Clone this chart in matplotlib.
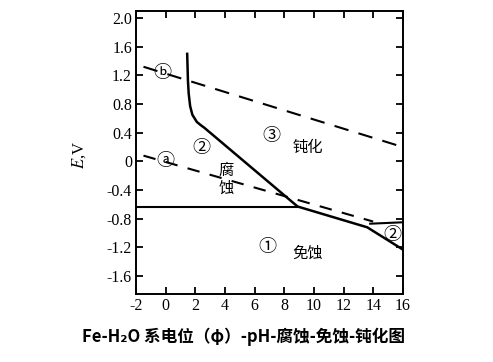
import matplotlib
matplotlib.use("Agg")
import matplotlib.pyplot as plt

# ---- data ----
curve_x = [1.45, 1.5, 1.55, 1.65, 1.8, 2.1, 2.4, 2.6, 8.9, 13.6, 16.0]
curve_y = [1.5, 1.13, 0.95, 0.77, 0.65, 0.55, 0.50, 0.47, -0.63, -0.92, -1.23]
hline_x = [-2.0, 8.9]
hline_y = [-0.63, -0.63]
right_x = [13.8, 16.0]
right_y = [-0.87, -0.85]
line_a_x = [-1.5, 14.0]
line_a_y = [0.08, -0.84]
line_b_x = [-1.5, 16.0]
line_b_y = [1.32, 0.20]

xticks = [-2, 0, 2, 4, 6, 8, 10, 12, 14, 16]
yticks = [2.0, 1.6, 1.2, 0.8, 0.4, 0, -0.4, -0.8, -1.2, -1.6]
ytick_labels = ["2.0", "1.6", "1.2", "0.8", "0.4", "0", "-0.4", "-0.8", "-1.2", "-1.6"]

circ_labels = [
    ("ⓑ", -0.2, 1.23), ("ⓐ", 0.0, 0.0), ("②", 2.4, 0.18),
    ("③", 7.1, 0.36), ("①", 6.85, -1.2), ("②", 15.3, -1.03),
]
text_labels = [
    ("腐", 4.1, -0.13), ("蚀", 4.1, -0.37),
    ("钝化", 9.6, 0.2), ("免蚀", 9.6, -1.28),
]
title = "Fe-H₂O 系电位（φ）-pH-腐蚀-免蚀-钝化图"

plt.rcParams['mathtext.fontset'] = 'stix'
plt.rcParams['axes.unicode_minus'] = False
fig = plt.figure(figsize=(4.93, 3.62), dpi=100)
ax = fig.add_axes([0.276, 0.188, 0.541, 0.782])

ax.plot(curve_x, curve_y, color='black', lw=1.8)
ax.plot(hline_x, hline_y, color='black', lw=1.5)
ax.plot(right_x, right_y, color='black', lw=1.5)
ax.plot(line_a_x, line_a_y, color='black', lw=1.5, dashes=(6, 5))
ax.plot(line_b_x, line_b_y, color='black', lw=1.5, dashes=(7, 5))

cjk = ['Noto Sans CJK SC', 'DejaVu Sans']
for t, x, y in circ_labels:
    ax.text(x, y, t, ha='center', va='center', fontsize=13, family=cjk)
for t, x, y in text_labels:
    ax.text(x, y, t, ha='center', va='center', fontsize=11, family=cjk)

ax.set_xlim(-2, 16)
ax.set_ylim(-1.85, 2.1)
ax.set_xticks(xticks)
ax.set_yticks(yticks)
ax.set_yticklabels(ytick_labels)
ax.tick_params(direction='in', top=True, right=True, length=5, width=1.3,
               labelsize=11.5, pad=3)
for lab in ax.get_xticklabels() + ax.get_yticklabels():
    lab.set_family('Liberation Serif')
for s in ax.spines.values():
    s.set_linewidth(1.4)

ax.set_ylabel(r'$\mathit{E}$,V', fontsize=12, family='Liberation Serif')
ax.yaxis.set_label_coords(-0.18, 0.49)

fig.text(0.494, 0.069, title, ha='center', va='center', fontsize=12,
         fontweight='bold', family=cjk)

fig.savefig('out.png', dpi=100)
